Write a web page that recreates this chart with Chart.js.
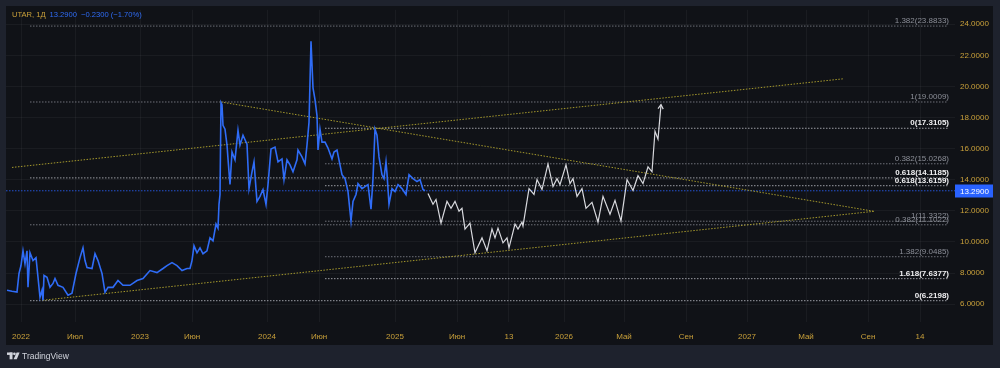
<!DOCTYPE html>
<html><head><meta charset="utf-8">
<script src="https://cdn.jsdelivr.net/npm/chart.js@4"></script>
<style>html,body{margin:0;padding:0;background:#1e222d;overflow:hidden}canvas{display:block}</style>
</head><body>
<canvas id="c" width="1000" height="368"></canvas>
<script>
// ---- data (time axis in bar units, price in USD) ----
const histT = [1,6,11,13,15,17,19,21,22,24,27,30,32,34,36,37,38,41,44,47,
  49,52,57,62,66,70,74,77,79,81,86,89,92,96,99,102,107,112,117,124,
  131,137,144,151,157,161,166,171,176,181,184,186,188,191,194,197,201,204,207,210,
  212,213,214,215,216,217,219,221,222,224,226,229,232,234,237,241,243,246,248,250,
  251,254,257,260,262,265,269,272,276,278,281,284,287,291,292,296,299,301,303,305,
  307,309,311,312,314,316,319,322,326,328,331,334,336,339,342,345,347,350,352,356,
  359,362,365,367,369,371,373,376,378,380,381,383,386,389,392,396,400,403,407,411,
  414,417,419];
const histClose = [6.89,6.83,6.78,7.97,8.48,9.43,8.60,9.43,7.08,9.30,8.80,8.99,7.72,6.44,6.89,6.25,7.84,7.72,7.08,7.33,
  7.65,7.21,7.08,6.57,6.70,7.97,8.99,9.62,8.80,8.35,8.29,9.24,8.80,7.97,6.76,7.08,7.08,7.52,7.21,7.21,
  7.52,7.65,8.16,8.03,8.29,8.48,8.67,8.48,8.16,8.29,8.29,8.80,9.75,9.30,9.62,9.24,9.43,10.26,10.07,11.15,
  10.89,12.42,13.05,18.96,18.83,17.50,17.25,16.23,15.34,13.69,15.78,15.28,17.18,16.23,16.86,16.29,13.43,14.51,15.15,13.43,
  12.61,12.93,13.37,12.42,13.69,15.97,16.10,15.15,15.34,14.01,15.28,14.96,14.51,15.28,15.91,15.47,15.02,16.23,17.69,22.90,
  19.91,19.15,18.13,15.91,17.25,16.42,16.42,16.04,15.34,15.78,15.91,14.96,14.32,14.07,13.24,11.34,12.61,13.05,13.75,13.43,
  13.56,13.69,12.10,14.07,17.25,16.86,15.47,14.32,14.07,15.15,14.39,12.42,13.43,13.24,13.69,13.43,13.05,14.32,14.07,13.88,
  14.01,13.37,13.29];
const projT = [422,427,430,435,441,445,449,453,456,459,464,469,476,481,486,489,492,497,501,503,
  509,512,516,517,523,528,531,536,542,547,551,554,560,564,567,571,576,580,586,592,
  597,604,609,615,621,627,632,637,642,646,649,652,655];
const projClose = [13.12,12.42,12.73,11.21,12.61,12.16,12.61,11.97,12.16,10.83,11.21,9.30,10.26,9.43,10.83,10.26,10.89,9.94,10.26,9.62,
  11.15,10.83,11.27,11.02,13.43,13.05,14.01,13.37,15.02,13.56,14.07,13.69,14.96,13.75,14.07,12.93,13.43,12.16,12.54,11.27,
  12.93,11.78,12.67,11.34,14.01,13.31,14.26,13.75,14.83,14.51,17.12,16.61,18.83];

const xTickPos = [15,69,134,186,261,313,389,451,503,558,618,680,741,800,862,914];
const xTickLabels = ['2022','Июл','2023','Июн','2024','Июн','2025','Июн','13','2026','Май','Сен','2027','Май','Сен','14'];
const yTickValues = [6,8,10,12,14,16,18,20,22,24];

const fibValues = [23.8833,19.0009,17.3105,15.0268,14.1185,13.6159,11.3322,11.1022,9.0485,7.6377,6.2198];
const fibRatios = ['1.382','1','0','0.382','0.618','0.618','1','0.382','1.382','1.618','0'];
const fibStartT = [24,24,319,319,24,319,319,24,319,319,24];
const fibBright = [false,false,true,false,true,true,false,false,false,true,true];
const fibEndT = 942;

const trendStartT = [6,215,37];
const trendStartV = [14.79,19.0,6.25];
const trendEndT = [837,868,868];
const trendEndV = [20.49,11.97,11.97];

const symbolName = 'UTAR, 1Д';
const lastPrice = 13.29;
const priceChange = -0.23;
const priceChangePct = -1.70;

// ---- styles ----
const FONT = "'Liberation Sans', Arial, sans-serif";
const GOLD = '#c9a03a';
const BLUE = '#2f6cf6';
const zip = (a,b) => a.map((t,i)=>({x:t,y:b[i]}));

const datasets = [];
datasets.push({data: zip(histT,histClose), borderColor: BLUE, borderWidth: 1.6, tension: 0});
datasets.push({data: zip(projT,projClose), borderColor: '#d8d9de', borderWidth: 1.2, tension: 0});
for (let i=0;i<trendStartT.length;i++) {
  datasets.push({data: [{x:trendStartT[i],y:trendStartV[i]},{x:trendEndT[i],y:trendEndV[i]}], borderColor: '#a4982c', borderWidth: 1, borderDash: [1.5,1.5]});
}
datasets.push({data: [{x:0,y:lastPrice},{x:949,y:lastPrice}], borderColor: 'rgba(41,98,255,0.8)', borderWidth: 1, borderDash: [1.5,1.5]});
for (let i=0;i<fibValues.length;i++) {
  datasets.push({data: [{x:fibStartT[i],y:fibValues[i]},{x:fibEndT,y:fibValues[i]}], borderColor: fibBright[i] ? 'rgba(200,202,210,0.75)' : 'rgba(150,153,162,0.7)', borderWidth: 1, borderDash: [1.5,1.5]});
}

const overlay = {
  id: 'overlay',
  beforeDraw(chart) {
    const ctx = chart.ctx;
    ctx.save();
    ctx.fillStyle = '#1e222d';
    ctx.fillRect(0,0,chart.width,chart.height);
    ctx.fillStyle = '#101217';
    ctx.fillRect(6,6,987,339);
    ctx.restore();
  },
  afterDatasetsDraw(chart) {
    const ctx = chart.ctx, xs = chart.scales.x, ys = chart.scales.y, ca = chart.chartArea;
    ctx.save();
    // fib labels
    ctx.textAlign = 'right'; ctx.textBaseline = 'alphabetic';
    for (let i=0;i<fibValues.length;i++) {
      const y = ys.getPixelForValue(fibValues[i]);
      ctx.font = (fibBright[i] ? 'bold ' : '') + '8px ' + FONT;
      ctx.fillStyle = fibBright[i] ? '#f0f0f2' : '#8c8f98';
      ctx.fillText(fibRatios[i] + '(' + fibValues[i].toFixed(4) + ')', xs.getPixelForValue(fibEndT)+1, y - 3);
    }
    // arrow head on projection
    const pts = chart.getDatasetMeta(1).data;
    const p1 = pts[pts.length-1], p0 = pts[pts.length-2];
    const ang = Math.atan2(p1.y-p0.y, p1.x-p0.x);
    ctx.strokeStyle = '#d8d9de'; ctx.lineWidth = 1.2;
    ctx.beginPath();
    ctx.moveTo(p1.x - 5*Math.cos(ang-0.55), p1.y - 5*Math.sin(ang-0.55));
    ctx.lineTo(p1.x, p1.y);
    ctx.lineTo(p1.x - 5*Math.cos(ang+0.55), p1.y - 5*Math.sin(ang+0.55));
    ctx.stroke();
    // last price box
    const py = Math.round(ys.getPixelForValue(lastPrice));
    ctx.fillStyle = '#2962ff';
    ctx.fillRect(ca.right, py-6.5, 38, 13);
    ctx.fillStyle = '#ffffff'; ctx.textAlign = 'left'; ctx.textBaseline = 'middle';
    ctx.font = '8px ' + FONT;
    ctx.fillText(lastPrice.toFixed(4), ca.right + 5, py+0.5);
    // title
    ctx.textBaseline = 'middle'; ctx.textAlign = 'left';
    ctx.font = '7.6px ' + FONT;
    ctx.fillStyle = GOLD;
    ctx.fillText(symbolName, 12, 15);
    ctx.fillStyle = BLUE;
    ctx.fillText(lastPrice.toFixed(4), 49.5, 15);
    const ch = (priceChange<0?'\u2212':'+') + Math.abs(priceChange).toFixed(4) + ' (' + (priceChangePct<0?'\u2212':'+') + Math.abs(priceChangePct).toFixed(2) + '%)';
    ctx.fillText(ch, 81, 15);
    // TradingView logo
    ctx.fillStyle = '#d1d4dc';
    ctx.fillRect(7,352.5,5.5,2.4);
    ctx.fillRect(9.6,352.5,2.9,6.8);
    ctx.beginPath(); ctx.arc(14.4,353.8,1.35,0,Math.PI*2); ctx.fill();
    ctx.beginPath(); ctx.moveTo(16.6,352.5); ctx.lineTo(19.6,352.5); ctx.lineTo(16.8,359.3); ctx.lineTo(13.6,359.3); ctx.closePath(); ctx.fill();
    ctx.font = '8.5px ' + FONT;
    ctx.fillText('TradingView', 22, 356.5);
    ctx.restore();
  }
};

new Chart(document.getElementById('c'), {
  type: 'line',
  data: { datasets },
  plugins: [overlay],
  options: {
    responsive: false, animation: false, devicePixelRatio: 1,
    layout: { padding: { left: 6, top: 6, right: 7, bottom: 23 } },
    elements: { point: { radius: 0, hoverRadius: 0 }, line: { fill: false } },
    plugins: { legend: { display: false }, tooltip: { enabled: false } },
    events: [],
    scales: {
      x: {
        type: 'linear', min: 0, max: 949, position: 'bottom',
        afterBuildTicks(s) { s.ticks = xTickPos.map(v => ({ value: v })); },
        afterFit(s) { s.height = 23; },
        ticks: { autoSkip: false, maxRotation: 0, padding: 10, color: GOLD, font: { family: FONT, size: 8 },
          callback: (v, i) => xTickLabels[i] },
        grid: { color: 'rgba(255,255,255,0.045)', drawTicks: false },
        border: { display: false }
      },
      y: {
        type: 'linear', position: 'right', min: 4.85, max: 24.93,
        afterBuildTicks(s) { s.ticks = yTickValues.map(v => ({ value: v })); },
        afterFit(s) { s.width = 38; },
        ticks: { padding: 5, color: GOLD, font: { family: FONT, size: 8 }, callback: v => Number(v).toFixed(4) },
        grid: { color: 'rgba(255,255,255,0.045)', drawTicks: false },
        border: { display: false }
      }
    }
  }
});
</script>
</body></html>
